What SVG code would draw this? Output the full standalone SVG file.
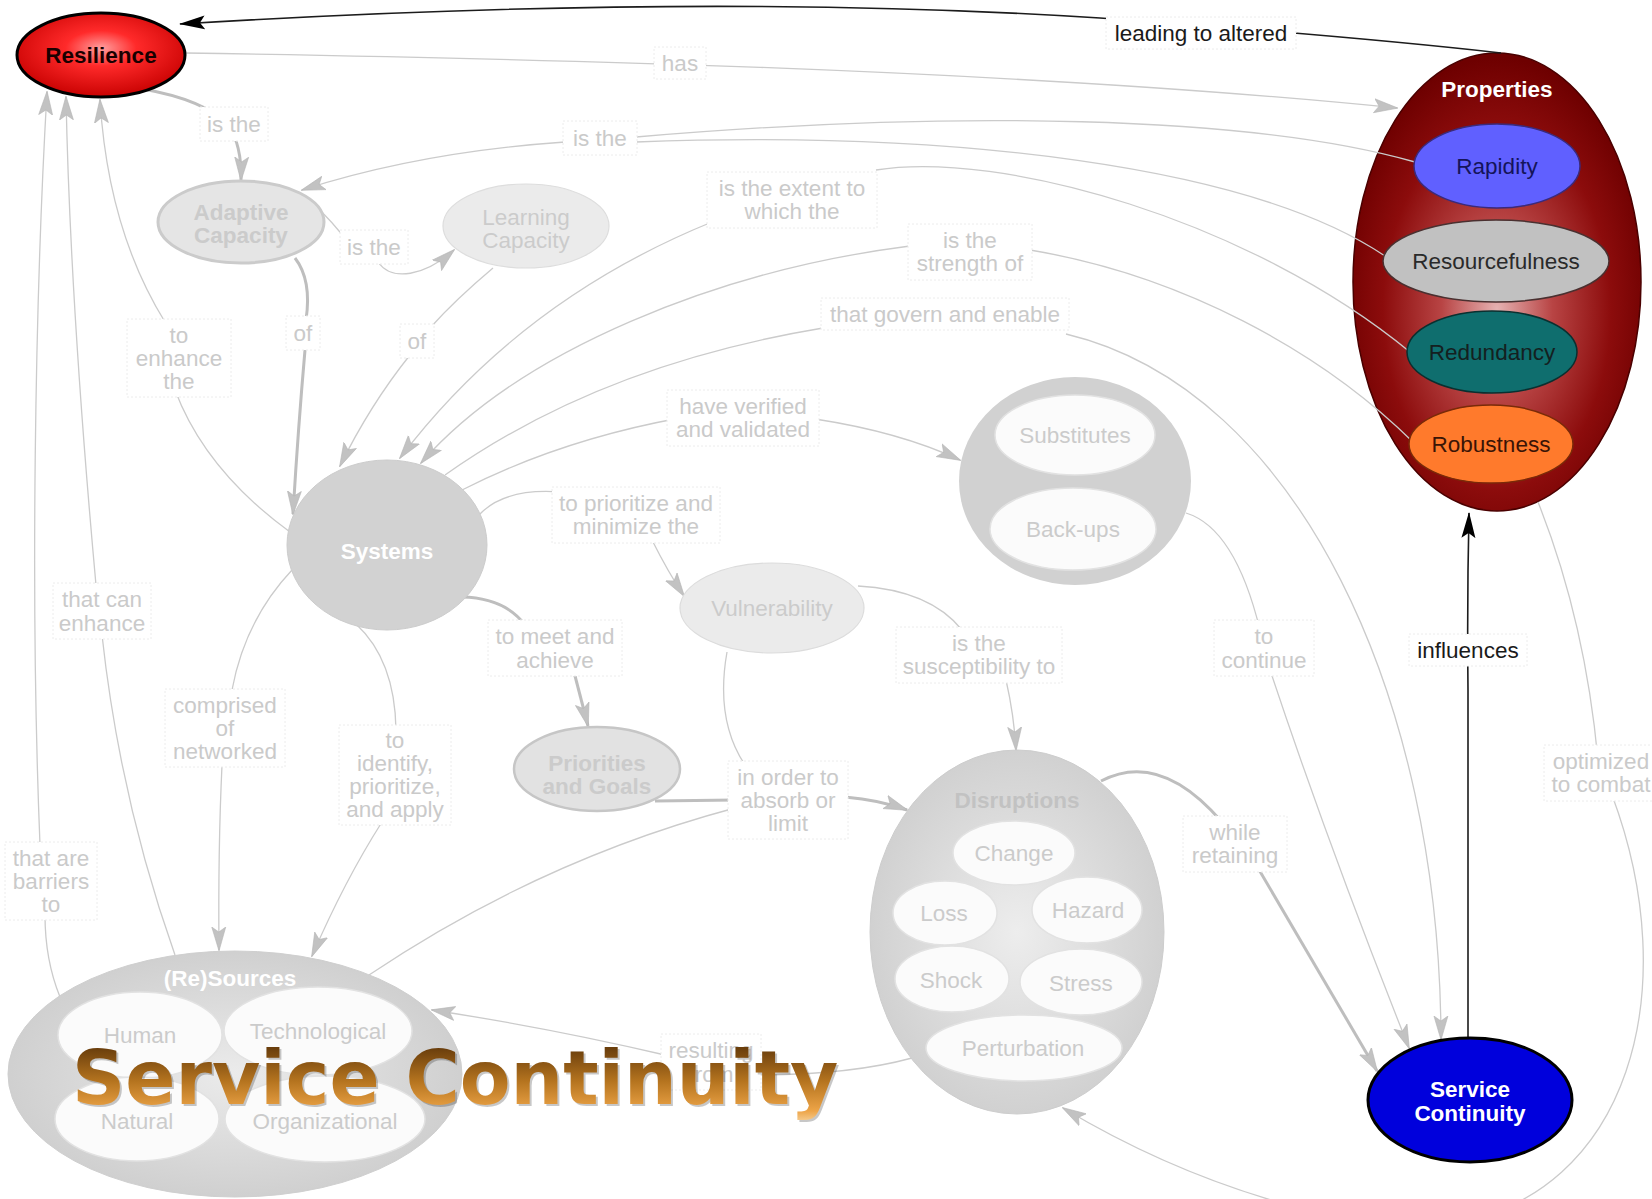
<svg xmlns="http://www.w3.org/2000/svg" width="1652" height="1199" viewBox="0 0 1652 1199">
<defs>
<style>
.t{font-family:"Liberation Sans",Arial,sans-serif;font-size:22.5px;text-anchor:middle}
.b{font-weight:bold}
.lbl{fill:#cacaca}
.box{fill:#fff;stroke:#ececec;stroke-width:1;stroke-dasharray:2 2}
.ln{fill:none;stroke:#cbcbcb;stroke-width:1.3}
.lnt{fill:none;stroke:#bebebe;stroke-width:3}
.lnb{fill:none;stroke:#1c1c1c;stroke-width:1.6}
.ag{marker-end:url(#ag)}
.inner{fill:#fbfbfb;stroke:#e2e2e2;stroke-width:1.5}
.ng{fill:#cbcbcb}
</style>
<marker id="ag" viewBox="0 0 24 16" markerWidth="24" markerHeight="16" refX="23" refY="8" orient="auto" markerUnits="userSpaceOnUse"><path d="M0,1 L24,8 L0,15 L5,8 z" fill="#c2c2c2" stroke="#b5b5b5" stroke-width="0.6"/></marker>
<marker id="ab" viewBox="0 0 26 16" markerWidth="26" markerHeight="16" refX="25" refY="8" orient="auto" markerUnits="userSpaceOnUse"><path d="M0,1 L26,8 L0,15 L5,8 z" fill="#000"/></marker>
<radialGradient id="gRes" cx="50%" cy="42%" r="60%"><stop offset="0" stop-color="#ffa0a0"/><stop offset="0.35" stop-color="#ff2a2a"/><stop offset="1" stop-color="#c60000"/></radialGradient>
<radialGradient id="gProp" cx="50%" cy="56%" r="55%"><stop offset="0" stop-color="#e6b2b2"/><stop offset="0.35" stop-color="#b84444"/><stop offset="0.72" stop-color="#8c0c0c"/><stop offset="1" stop-color="#6e0000"/></radialGradient>
<radialGradient id="gDis" cx="50%" cy="50%" r="55%"><stop offset="0" stop-color="#ededed"/><stop offset="1" stop-color="#cecece"/></radialGradient>
<radialGradient id="gSrc" cx="50%" cy="50%" r="55%"><stop offset="0" stop-color="#ebebeb"/><stop offset="1" stop-color="#cdcdcd"/></radialGradient>
<linearGradient id="gTitle" gradientUnits="userSpaceOnUse" x1="0" y1="1048" x2="0" y2="1122"><stop offset="0" stop-color="#6a3e0c"/><stop offset="0.45" stop-color="#b5741f"/><stop offset="0.85" stop-color="#eda447"/><stop offset="1" stop-color="#f6cf95"/></linearGradient>
</defs>
<rect width="1652" height="1199" fill="#fff"/>

<g id="properties">
<ellipse cx="1497" cy="282" rx="144" ry="229" fill="url(#gProp)" stroke="#4a0000" stroke-width="1.5"/>
<text class="t b" x="1497" y="97" fill="#fff">Properties</text>
</g>

<g id="connectors">
<path class="lnb" marker-end="url(#ab)" d="M1501,53 Q1350,36 1100,18 Q700,-8 180,24"/>
<path class="ln ag" d="M185,53 C500,58 1000,68 1397,108"/>
<path class="lnt ag" d="M143,89 Q205,100 228,125 Q242,145 241,180"/>
<path class="ln" d="M1415,162 C1250,115 950,110 636,137"/>
<path class="ln" d="M1385,256 C1250,165 950,130 636,142"/>
<path class="ln ag" d="M565,142 Q420,152 302,190"/>
<path class="ln ag" d="M712,222 Q520,300 400,458"/>
<path class="ln" d="M876,170 C1000,150 1250,220 1410,352"/>
<path class="ln ag" d="M910,246 C720,270 520,350 421,463"/>
<path class="ln" d="M1030,250 C1180,275 1320,350 1413,442"/>
<path class="ln" d="M823,328 Q600,365 445,475"/>
<path class="ln ag" d="M1066,334 C1300,390 1440,700 1441,1039"/>
<path class="lnb" marker-end="url(#ab)" d="M1468,1040 L1468,690 Q1467,600 1469,513"/>
<path class="ln" d="M1538,502 Q1585,620 1598,760"/>
<path class="ln ag" d="M1612,795 C1685,990 1630,1195 1450,1224 C1360,1235 1200,1190 1063,1108"/>
<path class="ln" d="M1186,513 Q1235,528 1260,630"/>
<path class="ln ag" d="M1270,670 Q1330,850 1409,1048"/>
<path class="lnt" d="M1101,781 Q1160,750 1222,822"/>
<path class="lnt ag" d="M1258,868 L1377,1071"/>
<path class="ln" d="M462,490 Q560,440 680,418"/>
<path class="ln ag" d="M815,419 Q900,432 960,460"/>
<path class="ln" d="M480,514 Q505,488 560,492"/>
<path class="ln ag" d="M652,540 Q668,572 684,596"/>
<path class="lnt" d="M462,597 Q505,598 525,625"/>
<path class="lnt ag" d="M574,672 L588,726"/>
<path class="ln" d="M858,586 Q930,590 962,630"/>
<path class="ln ag" d="M1006,680 Q1014,715 1016,750"/>
<path class="lnt" d="M655,801 L735,800"/>
<path class="ln" d="M727,652 Q715,720 745,765"/>
<path class="ln" d="M369,975 Q540,860 735,808"/>
<path class="lnt ag" d="M845,797 Q880,800 907,810"/>
<path class="ln" d="M912,1058 Q850,1075 755,1075"/>
<path class="ln ag" d="M665,1055 Q550,1028 432,1010"/>
<path class="ln" d="M290,532 Q205,470 175,390"/>
<path class="ln ag" d="M165,322 Q108,230 100,100"/>
<path class="ln" d="M175,955 Q120,800 102,635"/>
<path class="ln ag" d="M96,585 Q70,300 66,97"/>
<path class="ln" d="M60,997 Q45,960 45,915"/>
<path class="ln ag" d="M40,845 C30,600 35,300 47,92"/>
<path class="ln" d="M292,570 Q245,620 232,690"/>
<path class="ln ag" d="M222,765 Q218,850 219,950"/>
<path class="ln" d="M356,624 Q395,660 396,730"/>
<path class="ln ag" d="M382,822 Q345,880 312,956"/>
<path class="ln" d="M318,208 Q332,222 345,238"/>
<path class="ln ag" d="M378,262 C392,282 425,276 454,250"/>
<path class="lnt" d="M295,258 Q312,280 306,320"/>
<path class="lnt ag" d="M305,350 Q298,430 293,514"/>
<path class="ln" d="M493,268 Q455,300 430,328"/>
<path class="ln ag" d="M410,355 Q370,405 340,466"/>
</g>

<g id="labels">
<rect class="box" x="1106" y="17" width="190" height="32"/><text class="t" x="1201" y="41" fill="#1a1a1a">leading to altered</text>
<rect class="box" x="654" y="47" width="52" height="32"/><text class="t lbl" x="680" y="71">has</text>
<rect class="box" x="200" y="107" width="68" height="34"/><text class="t lbl" x="234" y="132">is the</text>
<rect class="box" x="563" y="121" width="74" height="34"/><text class="t lbl" x="600" y="146">is the</text>
<rect class="box" x="707" y="172" width="170" height="56"/><text class="t lbl" x="792" y="196">is the extent to</text><text class="t lbl" x="792" y="219">which the</text>
<rect class="box" x="908" y="224" width="124" height="56"/><text class="t lbl" x="970" y="248">is the</text><text class="t lbl" x="970" y="271">strength of</text>
<rect class="box" x="821" y="298" width="248" height="32"/><text class="t lbl" x="945" y="322">that govern and enable</text>
<rect class="box" x="340" y="230" width="68" height="34"/><text class="t lbl" x="374" y="255">is the</text>
<rect class="box" x="286" y="316" width="34" height="34"/><text class="t lbl" x="303" y="341">of</text>
<rect class="box" x="400" y="324" width="34" height="34"/><text class="t lbl" x="417" y="349">of</text>
<rect class="box" x="127" y="319" width="104" height="78"/><text class="t lbl" x="179" y="343">to</text><text class="t lbl" x="179" y="366">enhance</text><text class="t lbl" x="179" y="389">the</text>
<rect class="box" x="667" y="390" width="152" height="56"/><text class="t lbl" x="743" y="414">have verified</text><text class="t lbl" x="743" y="437">and validated</text>
<rect class="box" x="552" y="487" width="168" height="56"/><text class="t lbl" x="636" y="511">to prioritize and</text><text class="t lbl" x="636" y="534">minimize the</text>
<rect class="box" x="53" y="583" width="98" height="56"/><text class="t lbl" x="102" y="607">that can</text><text class="t lbl" x="102" y="631">enhance</text>
<rect class="box" x="488" y="620" width="134" height="56"/><text class="t lbl" x="555" y="644">to meet and</text><text class="t lbl" x="555" y="668">achieve</text>
<rect class="box" x="896" y="627" width="166" height="56"/><text class="t lbl" x="979" y="651">is the</text><text class="t lbl" x="979" y="674">susceptibility to</text>
<rect class="box" x="1214" y="620" width="100" height="56"/><text class="t lbl" x="1264" y="644">to</text><text class="t lbl" x="1264" y="668">continue</text>
<rect class="box" x="1409" y="634" width="118" height="32"/><text class="t" x="1468" y="658" fill="#1a1a1a">influences</text>
<rect class="box" x="165" y="689" width="120" height="78"/><text class="t lbl" x="225" y="713">comprised</text><text class="t lbl" x="225" y="736">of</text><text class="t lbl" x="225" y="759">networked</text>
<rect class="box" x="339" y="725" width="112" height="100"/><text class="t lbl" x="395" y="748">to</text><text class="t lbl" x="395" y="771">identify,</text><text class="t lbl" x="395" y="794">prioritize,</text><text class="t lbl" x="395" y="817">and apply</text>
<rect class="box" x="728" y="761" width="120" height="78"/><text class="t lbl" x="788" y="785">in order to</text><text class="t lbl" x="788" y="808">absorb or</text><text class="t lbl" x="788" y="831">limit</text>
<rect class="box" x="1544" y="745" width="114" height="56"/><text class="t lbl" x="1601" y="769">optimized</text><text class="t lbl" x="1601" y="792">to combat</text>
<rect class="box" x="5" y="842" width="92" height="78"/><text class="t lbl" x="51" y="866">that are</text><text class="t lbl" x="51" y="889">barriers</text><text class="t lbl" x="51" y="912">to</text>
<rect class="box" x="1183" y="816" width="104" height="56"/><text class="t lbl" x="1235" y="840">while</text><text class="t lbl" x="1235" y="863">retaining</text>
<rect class="box" x="661" y="1034" width="100" height="56"/><text class="t lbl" x="711" y="1058">resulting</text><text class="t lbl" x="711" y="1082">from</text>
</g>

<g id="resilience">
<ellipse cx="101" cy="55" rx="84" ry="42" fill="url(#gRes)" stroke="#000" stroke-width="3"/>
<text class="t b" x="101" y="63" fill="#1a0000">Resilience</text>
</g>
<g id="rapidity">
<ellipse cx="1497" cy="166" rx="83" ry="42" fill="#6060ff" stroke="#3b2a7a" stroke-width="1.5"/>
<text class="t" x="1497" y="174" fill="#14145a">Rapidity</text>
</g>
<g id="resourcefulness">
<ellipse cx="1496" cy="261" rx="113" ry="41" fill="#c1c1c1" stroke="#4a3030" stroke-width="1.5"/>
<text class="t" x="1496" y="269" fill="#2a2a2a">Resourcefulness</text>
</g>
<g id="redundancy">
<ellipse cx="1492" cy="352" rx="85" ry="41" fill="#0f6e6e" stroke="#0a3030" stroke-width="1.5"/>
<text class="t" x="1492" y="360" fill="#142020">Redundancy</text>
</g>
<g id="robustness">
<ellipse cx="1491" cy="444" rx="82" ry="39" fill="#ff7a2c" stroke="#7a2a08" stroke-width="1.5"/>
<text class="t" x="1491" y="452" fill="#3a1406">Robustness</text>
</g>
<g id="service-continuity">
<ellipse cx="1470" cy="1100" rx="102" ry="62" fill="#0000dc" stroke="#000" stroke-width="3"/>
<text class="t b" x="1470" y="1097" fill="#fff">Service</text>
<text class="t b" x="1470" y="1121" fill="#fff">Continuity</text>
</g>
<g id="adaptive-capacity">
<ellipse cx="241" cy="222" rx="83" ry="41" fill="#e5e5e5" stroke="#cbcbcb" stroke-width="3"/>
<text class="t b ng" x="241" y="220">Adaptive</text>
<text class="t b ng" x="241" y="243">Capacity</text>
</g>
<g id="learning-capacity">
<ellipse cx="526" cy="226" rx="83" ry="42" fill="#ebebeb" stroke="#dddddd" stroke-width="1.2"/>
<text class="t ng" x="526" y="225">Learning</text>
<text class="t ng" x="526" y="248">Capacity</text>
</g>
<g id="systems">
<ellipse cx="387" cy="545" rx="100" ry="85" fill="#d2d2d2" stroke="#cccccc" stroke-width="1"/>
<text class="t b" x="387" y="559" fill="#ffffff">Systems</text>
</g>
<g id="vulnerability">
<ellipse cx="772" cy="608" rx="92" ry="45" fill="#ebebeb" stroke="#dcdcdc" stroke-width="1.2"/>
<text class="t ng" x="772" y="616">Vulnerability</text>
</g>
<g id="priorities-and-goals">
<ellipse cx="597" cy="769" rx="83" ry="42" fill="#e2e2e2" stroke="#c6c6c6" stroke-width="2.5"/>
<text class="t b ng" x="597" y="771">Priorities</text>
<text class="t b ng" x="597" y="794">and Goals</text>
</g>
<g id="substitutes-backups">
<ellipse cx="1075" cy="481" rx="116" ry="104" fill="#d1d1d1"/>
</g>
<g id="substitutes">
<ellipse class="inner" cx="1075" cy="435" rx="80" ry="40"/>
<text class="t ng" x="1075" y="443">Substitutes</text>
</g>
<g id="back-ups">
<ellipse class="inner" cx="1073" cy="529" rx="83" ry="41"/>
<text class="t ng" x="1073" y="537">Back-ups</text>
</g>
<g id="disruptions">
<ellipse cx="1017" cy="932" rx="147" ry="182" fill="url(#gDis)" stroke="#cdcdcd" stroke-width="1"/>
<text class="t b" x="1017" y="808" fill="#c2c2c2">Disruptions</text>
</g>
<g id="change"><ellipse class="inner" cx="1014" cy="853" rx="61" ry="32"/><text class="t ng" x="1014" y="861">Change</text></g>
<g id="loss"><ellipse class="inner" cx="945" cy="913" rx="52" ry="32"/><text class="t ng" x="944" y="921">Loss</text></g>
<g id="hazard"><ellipse class="inner" cx="1087" cy="910" rx="55" ry="33"/><text class="t ng" x="1088" y="918">Hazard</text></g>
<g id="shock"><ellipse class="inner" cx="952" cy="979" rx="57" ry="33"/><text class="t ng" x="951" y="988">Shock</text></g>
<g id="stress"><ellipse class="inner" cx="1081" cy="982" rx="61" ry="33"/><text class="t ng" x="1081" y="991">Stress</text></g>
<g id="perturbation"><ellipse class="inner" cx="1024" cy="1048" rx="98" ry="33"/><text class="t ng" x="1023" y="1056">Perturbation</text></g>
<g id="resources">
<ellipse cx="235" cy="1074" rx="227" ry="123" fill="url(#gSrc)" stroke="#cfcfcf" stroke-width="1"/>
<text class="t b" x="230" y="986" fill="#ffffff">(Re)Sources</text>
</g>
<g id="human"><ellipse class="inner" cx="140" cy="1035" rx="82" ry="43"/><text class="t ng" x="140" y="1043">Human</text></g>
<g id="technological"><ellipse class="inner" cx="318" cy="1031" rx="94" ry="44"/><text class="t ng" x="318" y="1039">Technological</text></g>
<g id="natural"><ellipse class="inner" cx="137" cy="1119" rx="82" ry="42"/><text class="t ng" x="137" y="1129">Natural</text></g>
<g id="organizational"><ellipse class="inner" cx="325" cy="1119" rx="100" ry="43"/><text class="t ng" x="325" y="1129">Organizational</text></g>

<g id="title">
<text x="74" y="1106" font-family="'DejaVu Sans',Verdana,sans-serif" font-weight="bold" font-size="74" fill="#000" fill-opacity="0.22">Service Continuity</text>
<text x="72" y="1104" font-family="'DejaVu Sans',Verdana,sans-serif" font-weight="bold" font-size="74" fill="url(#gTitle)">Service Continuity</text>
</g>
</svg>
